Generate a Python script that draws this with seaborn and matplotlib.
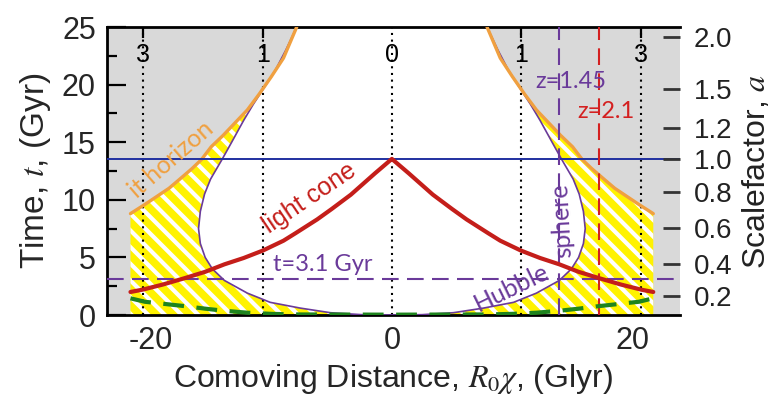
import numpy as np
import pandas as pd
import matplotlib
matplotlib.use("Agg")
import matplotlib.pyplot as plt
import seaborn as sns

# -------------------------------------------------
# DATA (right half; curves are mirror symmetric)
# -------------------------------------------------
hubble_x = [0, 2.5, 5.1, 7.6, 10.1, 12.0, 13.9, 14.9, 15.5, 15.9, 16.05, 15.9,
            15.55, 15.05, 14.1, 13.3, 12.3, 11.5, 10.75, 9.7, 8.8, 7.9]
hubble_t = [0, 0.03, 0.2, 0.6, 1.1, 1.9, 3.0, 4.0, 5.0, 6.2, 7.5, 9.0,
            10.5, 11.8, 13.5, 15.0, 16.9, 18.3, 19.5, 21.2, 23.0, 25.0]

horizon_x = [21.7, 20.5, 19.5, 18.5, 17.6, 16.6, 15.8, 15.0, 14.0, 13.0,
             12.0, 11.0, 10.0, 9.0, 7.9]
horizon_t = [8.8, 9.6, 10.3, 11.0, 11.8, 12.7, 13.5, 14.6, 15.6, 16.7,
             17.8, 19.2, 20.7, 22.3, 25.0]

cone_x = [0, 1.4, 3.4, 5.0, 6.2, 8.0, 9.0, 10.7, 12.3, 13.9, 15.5, 17.2,
          19.0, 20.7, 21.7]
cone_t = [13.55, 12.3, 10.45, 9.2, 8.3, 7.1, 6.45, 5.6, 4.95, 4.4, 3.75, 3.2,
          2.65, 2.2, 2.0]

early_x = [0, 8, 10, 12, 14, 15.5, 17, 18.5, 20.5, 21.7]
early_t = [0.03, 0.05, 0.1, 0.2, 0.38, 0.55, 0.75, 0.92, 1.15, 1.45]

edge_x = 21.7          # edge of the hatched region
now_t = 13.55          # today
t_mark = 3.1           # t=3.1 Gyr line
z145_x = 13.9
z21_x = 17.2

z_labels = ["3", "1", "0", "1", "3"]
z_dist = [-20.7, -10.7, 0, 10.7, 20.7]

scale_labels = ["0.2", "0.4", "0.6", "0.8", "1.0", "1.2", "1.5", "2.0"]
scale_t = [1.65, 4.4, 7.55, 10.65, 13.55, 16.2, 19.6, 24.1]

# -------------------------------------------------
# STYLE
# -------------------------------------------------
sns.set_theme(style="white")
plt.rcParams["font.family"] = ["Liberation Sans", "DejaVu Sans"]
plt.rcParams["mathtext.fontset"] = "stix"
plt.rcParams["axes.unicode_minus"] = False
plt.rcParams["hatch.color"] = "white"
plt.rcParams["hatch.linewidth"] = 3.0

GRAY = "#d9d9d9"
YELLOW = "#fff200"
ORANGE = "#f0a040"
PURPLE = "#6a3a9a"
RED = "#c41e1a"
BLUE = "#2030a0"
GREEN = "#1e841e"
ANNOT = ["Lato", "DejaVu Sans"]

fig = plt.figure(figsize=(7.73, 3.96), dpi=100)
ax = fig.add_axes([0.1384, 0.2045, 0.741, 0.7273])
ax.set_facecolor(GRAY)
ax.set_xlim(-23.65, 23.9)
ax.set_ylim(0, 25)

hx = np.array(hubble_x)
ht = np.array(hubble_t)
ex = np.array(horizon_x)
et = np.array(horizon_t)

# white inside the Hubble sphere
ax.fill(np.r_[-hx[::-1], hx], np.r_[ht[::-1], ht], color="white", lw=0, zorder=1)

# hatched yellow band between Hubble sphere and horizon
for s in (-1, 1):
    px = np.r_[s * hx, s * ex[::-1], s * edge_x, 0]
    pt = np.r_[ht, et[::-1], 0, 0]
    ax.fill(px, pt, facecolor=YELLOW, edgecolor="white", hatch="\\\\", lw=0, zorder=1.5)

# curves
def sym(xv, tv):
    xv = np.array(xv)
    tv = np.array(tv)
    return pd.DataFrame({"x": np.r_[-xv[::-1], xv], "t": np.r_[tv[::-1], tv]})

sns.lineplot(data=sym(hubble_x, hubble_t), x="x", y="t", sort=False, estimator=None,
             color=PURPLE, lw=1.2, ax=ax, zorder=3)
for s in (-1, 1):
    sns.lineplot(x=s * ex, y=et, sort=False, estimator=None, color=ORANGE, lw=2.4,
                 ax=ax, zorder=3)
sns.lineplot(data=sym(cone_x, cone_t), x="x", y="t", sort=False, estimator=None,
             color=RED, lw=3.0, ax=ax, zorder=4)
sns.lineplot(data=sym(early_x, early_t), x="x", y="t", sort=False, estimator=None,
             color=GREEN, lw=3.0, linestyle=(0, (5, 3)), ax=ax, zorder=4)

# reference lines
for zx in z_dist:
    ax.axvline(zx, color="black", lw=1.5, ls=(0, (1, 2.2)), zorder=2.5)
ax.axhline(now_t, color=BLUE, lw=1.4, zorder=3)
ax.axhline(t_mark, color=PURPLE, lw=1.5, ls=(0, (8, 4)), zorder=3)
ax.axvline(z145_x, color=PURPLE, lw=1.5, ls=(0, (8, 4)), zorder=3)
ax.axvline(z21_x, color="#d42020", lw=1.5, ls=(0, (8, 4)), zorder=3)

for lab, zx in zip(z_labels, z_dist):
    ax.text(zx, 22.6, lab, ha="center", va="center", fontsize=18, color="black", zorder=5)

# annotations
ax.text(-6.8, 10.1, "light cone", color=RED, fontsize=18, rotation=34,
        ha="center", va="center", zorder=5)
ax.text(-5.7, 4.4, "t=3.1 Gyr", color=PURPLE, fontsize=17, family=ANNOT,
        ha="center", va="center", zorder=5)
ax.text(9.9, 2.4, "Hubble", color=PURPLE, fontsize=18, rotation=26, family=ANNOT,
        ha="center", va="center", zorder=5)
ax.text(14.1, 8.2, "sphere", color=PURPLE, fontsize=18, rotation=93, family=ANNOT,
        ha="center", va="center", zorder=5)
ax.text(14.85, 20.3, "z=1.45", color=PURPLE, fontsize=17, family=ANNOT,
        ha="center", va="center", zorder=5)
ax.text(17.8, 17.7, "z=2.1", color="#d42020", fontsize=17, family=ANNOT,
        ha="center", va="center", zorder=5)
ax.text(-18.3, 13.5, "it horizon", color=ORANGE, fontsize=18, rotation=41, family=ANNOT,
        ha="center", va="center", zorder=5)

# axes, ticks, labels
ax.set_xticks([-20, 0, 20])
ax.set_xticks([-10, 10], minor=True)
ax.set_yticks([0, 5, 10, 15, 20, 25])
ax.set_yticks([2.5, 7.5, 12.5, 17.5, 22.5], minor=True)
ax.tick_params(axis="both", which="major", direction="in", length=14, width=1.6,
               labelsize=22, pad=8, color="black")
ax.tick_params(axis="both", which="minor", direction="in", length=7, width=1.6,
               color="black")
ax.tick_params(axis="x", bottom=True, which="both")
ax.tick_params(axis="y", left=True, which="both")
ax.set_xlabel(r"Comoving Distance, $R_0\chi$, (Glyr)", fontsize=23, labelpad=4)
ax.set_ylabel(r"Time, $t$, (Gyr)", fontsize=24, labelpad=6)

for side in ("left", "bottom", "top"):
    ax.spines[side].set_visible(True)
    ax.spines[side].set_color("black")
    ax.spines[side].set_linewidth(2)
ax.spines["right"].set_visible(False)

top = ax.secondary_xaxis("top")
top.set_xticks(z_dist)
top.set_xticklabels([])
top.tick_params(direction="in", length=8, width=1.6, color="black")
top.spines["top"].set_visible(False)

ax2 = ax.twinx()
ax2.set_ylim(0, 25)
ax2.set_yticks(scale_t)
ax2.set_yticklabels(scale_labels)
ax2.tick_params(axis="y", right=True, direction="in", length=12, width=2,
                labelsize=20, pad=10, color="#333333", labelcolor="#222222")
ax2.set_ylabel(r"Scalefactor, $a$", fontsize=23, labelpad=6, color="#222222")
for side in ax2.spines:
    ax2.spines[side].set_visible(False)
ax2.grid(False)
ax.grid(False)

fig.savefig("out.png", dpi=100)
